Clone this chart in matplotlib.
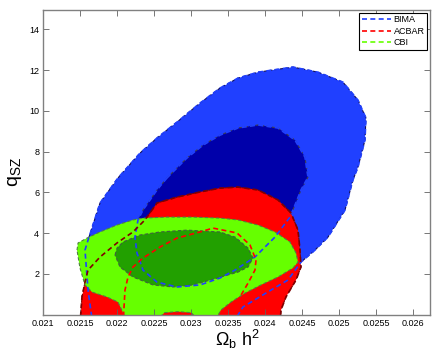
import matplotlib
matplotlib.use('Agg')
import matplotlib.pyplot as plt

plt.rcParams['font.family'] = ['Liberation Sans', 'DejaVu Sans']
plt.rcParams['mathtext.fontset'] = 'custom'
plt.rcParams['mathtext.rm'] = 'Liberation Sans'
plt.rcParams['mathtext.it'] = 'Liberation Sans'

# contour outlines (Omega_b h^2, q_SZ)
bima95_x = [0.02167, 0.021605, 0.021564, 0.021605, 0.021767, 0.02201, 0.022308, 0.022538,
            0.022808, 0.023119, 0.02339, 0.023633, 0.023904, 0.024377, 0.024715, 0.025053,
            0.025256, 0.025364, 0.025351, 0.025256, 0.025188, 0.02508, 0.024851, 0.024675,
            0.024485, 0.024309, 0.02408, 0.023701, 0.02355]
bima95_y = [-0.5, 1.21, 3.17, 3.66, 5.48, 6.71, 7.93, 8.67,
            9.45, 10.38, 11.12, 11.61, 11.90, 12.15, 11.90, 11.41,
            10.53, 9.65, 8.57, 7.24, 6.61, 5.13, 3.81, 3.17,
            2.58, 1.70, 1.21, 0.38, -0.5]

bima68_x = [0.022673, 0.022943, 0.02316, 0.02339, 0.023633, 0.023904, 0.024174, 0.024404,
            0.024539, 0.02458, 0.024485, 0.024404, 0.024336, 0.024134, 0.023863, 0.023593,
            0.02339, 0.023119, 0.022808, 0.022538, 0.022348, 0.022267, 0.02224, 0.022281,
            0.022348, 0.022538, 0.022673]
bima68_y = [6.71, 7.69, 8.32, 8.81, 9.16, 9.31, 9.16, 8.57,
            7.73, 6.75, 6.12, 5.38, 4.79, 3.81, 2.83, 2.19,
            1.80, 1.46, 1.36, 1.60, 2.19, 3.03, 3.81, 4.65,
            5.13, 6.12, 6.71]

acbar95_x = [0.021496, 0.021523, 0.021564, 0.021605, 0.021767, 0.021997, 0.022213, 0.022375,
             0.022538, 0.022808, 0.023119, 0.02339, 0.023633, 0.023904, 0.024174, 0.02435,
             0.024445, 0.024472, 0.024485, 0.024418, 0.024282, 0.024215, 0.0242]
acbar95_y = [-0.5, 0.87, 1.60, 2.19, 2.83, 3.52, 4.06, 4.65,
             5.48, 5.77, 6.02, 6.21, 6.26, 6.12, 5.63, 4.99,
             4.15, 3.17, 2.34, 1.70, 0.87, 0.23, -0.5]

acbar68_x = [0.022078, 0.022105, 0.022146, 0.022213, 0.022348, 0.022578, 0.022808, 0.023119,
             0.023295, 0.02362, 0.023796, 0.023877, 0.023863, 0.023769, 0.02366, 0.023566,
             0.02351]
acbar68_y = [-0.5, 1.21, 1.85, 2.34, 2.78, 3.32, 3.76, 4.06,
             4.25, 4.01, 3.42, 2.68, 2.19, 1.55, 0.87, 0.38,
             -0.5]

cbi95_x = [0.021456, 0.02147, 0.021591, 0.021767, 0.021997, 0.022213, 0.022348, 0.022673,
           0.023025, 0.02339, 0.023633, 0.023904, 0.024134, 0.024336, 0.024418, 0.024445,
           0.024377, 0.024174, 0.023944, 0.023728, 0.023539, 0.023403, 0.02332, 0.02311,
           0.02300, 0.02282, 0.02264, 0.02252, 0.022132, 0.02201, 0.021862, 0.021659,
           0.021564, 0.021496, 0.021456]
cbi95_y = [3.17, 3.52, 3.76, 4.06, 4.40, 4.65, 4.74, 4.79,
           4.79, 4.74, 4.65, 4.40, 4.06, 3.57, 3.03, 2.58,
           2.29, 1.85, 1.46, 1.06, 0.62, 0.23, -0.3, -0.3,
           0.10, 0.15, 0.10, -0.3, -0.3, 0.62, 0.87, 1.11,
           1.46, 2.29, 3.17]

cbi68_x = [0.02197, 0.021997, 0.022078, 0.022308, 0.022578, 0.022943, 0.02339, 0.023593,
           0.023769, 0.023836, 0.023769, 0.023633, 0.023403, 0.023025, 0.022754, 0.022484,
           0.022213, 0.022037, 0.02197]
cbi68_y = [2.93, 3.27, 3.57, 3.91, 4.06, 4.15, 4.06, 3.81,
           3.27, 2.78, 2.34, 2.09, 1.85, 1.46, 1.36, 1.46,
           1.85, 2.34, 2.93]

x_ticks = [0.021, 0.0215, 0.022, 0.0225, 0.023, 0.0235, 0.024, 0.0245, 0.025, 0.0255, 0.026]
x_tick_labels = ['0.021', '0.0215', '0.022', '0.0225', '0.023', '0.0235', '0.024',
                 '0.0245', '0.025', '0.0255', '0.026']
y_ticks = [2, 4, 6, 8, 10, 12, 14]

blue = '#2040ff'
navy = '#0000aa'
red = '#ff0000'
darkred = '#800000'
lgreen = '#66ff00'
dgreen = '#22a000'

fig = plt.figure(figsize=(4.36, 3.51), dpi=100)
ax = fig.add_axes([0.0993, 0.1034, 0.8869, 0.8681])

dash = (3.0, 2.0)

# filled regions, drawn in the same order as the original
ax.fill(bima95_x, bima95_y, facecolor=blue, edgecolor='#101060', lw=0.8, ls=(0, dash), zorder=1)
ax.fill(bima68_x, bima68_y, facecolor=navy, edgecolor='#404050', lw=0.8, ls=(0, dash), zorder=1.1)
ax.fill(acbar95_x, acbar95_y, facecolor=red, edgecolor=darkred, lw=0.8, ls=(0, dash), zorder=1.2)
ax.fill(cbi95_x, cbi95_y, facecolor=lgreen, edgecolor='#508040', lw=0.8, ls=(0, dash), zorder=1.3)
ax.fill(cbi68_x, cbi68_y, facecolor=dgreen, edgecolor='#406040', lw=0.8, ls=(0, dash), zorder=1.4)

# dashed contour lines on top
ax.plot(bima95_x, bima95_y, color=blue, lw=1.2, dashes=dash, zorder=2)
ax.plot(bima68_x, bima68_y, color=blue, lw=1.2, dashes=dash, zorder=2)
ax.plot(acbar95_x, acbar95_y, color=darkred, lw=1.2, dashes=dash, zorder=2)
ax.plot(acbar68_x, acbar68_y, color=red, lw=1.2, dashes=dash, zorder=2)

# legend entries
ax.plot([], [], color=blue, lw=1.2, dashes=dash, label='BIMA')
ax.plot([], [], color=red, lw=1.2, dashes=dash, label='ACBAR')
ax.plot([], [], color=lgreen, lw=1.2, dashes=dash, label='CBI')

ax.set_xlim(0.021, 0.02623)
ax.set_ylim(0, 14.95)
ax.set_xticks(x_ticks)
ax.set_xticklabels(x_tick_labels)
ax.set_yticks(y_ticks)
ax.tick_params(direction='in', length=4, width=0.6, top=True, right=True,
               labelsize=6.5, color='#606060', pad=3)
for s in ax.spines.values():
    s.set_color('#808080')
    s.set_linewidth(1.0)

leg = ax.legend(loc='upper right', fontsize=6.5, handlelength=3.2, handletextpad=0.3,
                borderpad=0.3, labelspacing=0.25, borderaxespad=0.3, fancybox=False,
                framealpha=1)
leg.get_frame().set_edgecolor('black')
leg.get_frame().set_linewidth(0.8)

fig.text(15 / 436, 1 - 172 / 351, r'$\mathrm{q_{SZ}}$', rotation=90, fontsize=14,
         ha='center', va='center')
fig.text(237 / 436, 1 - 339 / 351, r'$\mathrm{\Omega_b\ h^2}$', fontsize=13,
         ha='center', va='center')

fig.savefig('out.png', dpi=100)
